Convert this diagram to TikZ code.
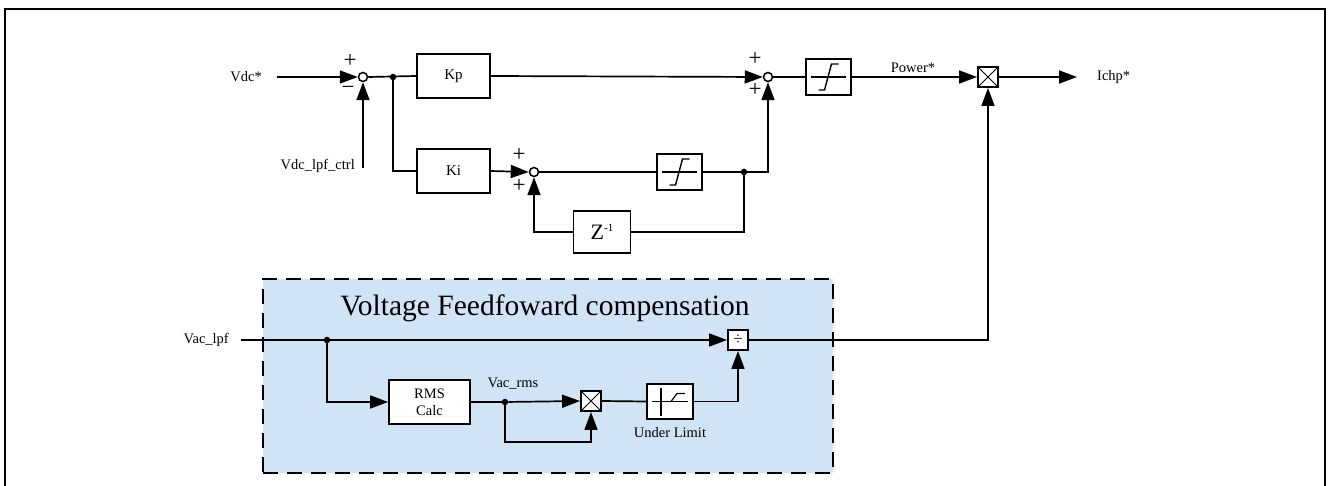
\documentclass[tikz,border=0pt]{standalone}
\usepackage{fontspec}
\setmainfont{Liberation Serif}
\usepackage{tikz}
\usetikzlibrary{arrows.meta, positioning, calc}
\definecolor{ffblue}{RGB}{209,228,245}

\begin{document}
\begin{tikzpicture}[x=1pt, y=-1pt,
    box/.style={rectangle, draw=black, line width=1.7pt, fill=white, minimum width=73pt, minimum height=44pt, inner sep=0pt, font=\fontsize{15}{17}\selectfont},
    satbox/.style={rectangle, draw=black, line width=1.7pt, fill=white, minimum width=45pt, minimum height=36pt, inner sep=0pt,
        path picture={\draw[line width=1.1pt] ([xshift=5pt]path picture bounding box.west) -- ([xshift=-5pt]path picture bounding box.east);
            \draw[line width=1.4pt] ([shift={(-10pt,-13pt)}]path picture bounding box.center) -- ([shift={(-4pt,-13pt)}]path picture bounding box.center)
                -- ([shift={(3pt,13pt)}]path picture bounding box.center) -- ([shift={(10pt,13pt)}]path picture bounding box.center);}},
    limbox/.style={rectangle, draw=black, line width=1.7pt, fill=white, minimum width=46pt, minimum height=35pt, inner sep=0pt,
        path picture={\draw[line width=1.1pt] ([xshift=5pt]path picture bounding box.west) -- ([xshift=-5pt]path picture bounding box.east);
            \draw[line width=1.1pt] ([shift={(-9pt,-14pt)}]path picture bounding box.center) -- ([shift={(-9pt,14pt)}]path picture bounding box.center);
            \draw[line width=1.2pt] ([shift={(1pt,0pt)}]path picture bounding box.center) -- ([shift={(7pt,8pt)}]path picture bounding box.center)
                -- ([shift={(15pt,8pt)}]path picture bounding box.center);}},
    sumnode/.style={circle, draw=black, line width=1.5pt, fill=white, minimum size=9pt, inner sep=0pt},
    mulbox/.style={rectangle, draw=black, line width=1.9pt, fill=white, minimum size=20pt, inner sep=0pt,
        path picture={\draw[line width=0.8pt] (path picture bounding box.south west) -- (path picture bounding box.north east)
            (path picture bounding box.north west) -- (path picture bounding box.south east);}},
    divbox/.style={rectangle, draw=black, line width=1.9pt, fill=white, minimum size=20pt, inner sep=0pt, font=\fontsize{17}{17}\selectfont},
    arrow/.style={-{Triangle[length=18pt, width=13pt]}, line width=1.7pt},
    wire/.style={line width=1.7pt},
    thin/.style={line width=1.1pt},
    junction/.style={circle, fill=black, inner sep=0pt, minimum size=6.5pt},
    lbl/.style={font=\fontsize{14.5}{16}\selectfont, inner sep=0pt},
    sign/.style={font=\fontsize{23}{23}\selectfont, inner sep=0pt},
]
\useasboundingbox (0,0) rectangle (1328,486);
\draw[line width=2.8pt] (5,486) -- (5,9) -- (1325,9) -- (1325,486);

\node[draw=black, dash pattern=on 15pt off 9pt, line width=2.6pt, fill=ffblue, minimum width=570pt, minimum height=194pt] (ffarea) at (548,376) {};
\node[font=\fontsize{29.5}{32}\selectfont, inner sep=0pt] (fftitle) at (545,308) {Voltage Feedfoward compensation};

\coordinate (vdcin) at (277,77);
\node[lbl, left=15pt of vdcin] (vdcref) {Vdc*};
\node[sumnode] (sum1) at (363,77) {};
\coordinate (fbin) at (363,168);
\node[lbl, anchor=base east] (vdcfb) at (355,170) {Vdc\_lpf\_ctrl};
\node[sign] (s1p) at ([shift={(-13,-16)}]sum1) {+};
\node[sign] (s1m) at ([shift={(-15,13)}]sum1) {−};
\node[junction] (dot1) at (393,77) {};
\node[box] (kp) at (453.5,76) {Kp};
\node[box] (ki) at (453.5,171) {Ki};

\node[sumnode] (sum2) at (768,77) {};
\node[sign] (s2a) at ([shift={(-13,-18)}]sum2) {+};
\node[sign] (s2b) at ([shift={(-13,13)}]sum2) {+};
\node[satbox] (sat1) at (828.5,77) {};
\node[mulbox] (mul1) at (988,77) {};
\node[lbl] (power) at (913,68) {Power*};
\coordinate (ichpout) at (1077,77);
\node[lbl, right=20pt of ichpout] (ichp) {Ichp*};

\node[sumnode] (sum3) at (534,172) {};
\node[sign] (s3a) at ([shift={(-15,-17)}]sum3) {+};
\node[sign] (s3b) at ([shift={(-15,14)}]sum3) {+};
\node[satbox] (sat2) at (679.5,172) {};
\node[junction] (dot2) at (744,172) {};
\node[box, minimum width=57pt, minimum height=42pt, font=\fontsize{22}{24}\selectfont] (zinv) at (602,232) {Z\raisebox{8pt}{\fontsize{11}{11}\selectfont -1}};

\draw[arrow] (vdcin) -- (sum1.west);
\draw[arrow] (fbin) -- (sum1.south);
\draw[wire] (sum1.east) -- (kp.west);
\draw[wire] (dot1) |- (ki.west);
\draw[arrow] (kp.east) -- (sum2.west);
\draw[thin] (sum2.east) -- (sat1.west);
\draw[arrow] (sat1.east) -- (mul1.west);
\draw[arrow] (mul1.east) -- (ichpout);
\draw[arrow] (ki.east) -- (sum3.west);
\draw[wire] (sum3.east) -- (sat2.west);
\draw[wire] (sat2.east) -- (dot2);
\draw[arrow] (dot2) -| (sum2.south);
\draw[wire] (dot2) |- (zinv.east);
\draw[arrow] (zinv.west) -| (sum3.south);

\coordinate (vacin) at (241,340);
\node[lbl, left=12pt of vacin] (vaclpf) {Vac\_lpf};
\node[junction] (dot3) at (327,340) {};
\node[box, minimum width=81pt, align=center, font=\fontsize{14.5}{17}\selectfont] (rms) at (429.5,402) {RMS\\Calc};
\node[junction] (dot4) at (505,402) {};
\node[lbl] (vacrms) at (513,384) {Vac\_rms};
\node[mulbox] (mul2) at (591,401) {};
\coordinate (loop) at (505,442);
\node[limbox] (ulim) at (670,401.5) {};
\node[lbl, below=7pt of ulim] (ulimlbl) {Under Limit};
\node[divbox] (div) at (738,340) {÷};

\draw[arrow] (vacin) -- (div.west);
\draw[arrow] (dot3) |- (rms.west);
\draw[wire] (rms.east) -- (dot4);
\draw[arrow] (dot4) -- (mul2.west);
\draw[arrow] (dot4) -- (loop) -| (mul2.south);
\draw[wire] (mul2.east) -- (ulim.west);
\draw[arrow] (ulim.east) -| (div.south);
\draw[arrow] (div.east) -| (mul1.south);
\end{tikzpicture}
\end{document}
